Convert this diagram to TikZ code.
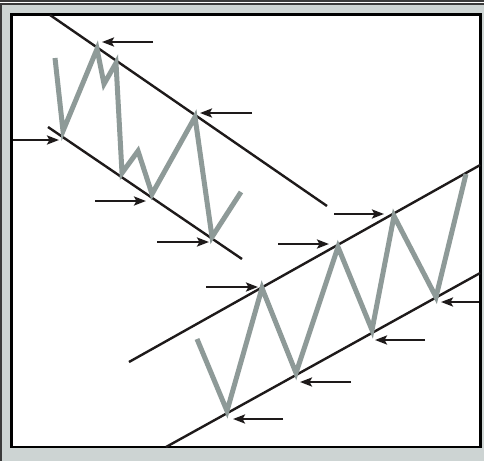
\documentclass[tikz,border=0pt]{standalone}
\usetikzlibrary{arrows.meta}
\definecolor{framegray}{HTML}{CDD4D3}
\definecolor{darkline}{HTML}{3A3A3A}
\definecolor{zig}{HTML}{8E9A98}
\definecolor{ink}{HTML}{1E1A1A}
\tikzset{
  trend/.style={draw=ink, line width=2.4pt},
  price/.style={draw=zig, line width=5pt, line join=miter, miter limit=20},
  marker/.style={draw=ink, line width=2.6pt, -{Stealth[length=12pt,width=9pt,inset=2.5pt]}}
}
\begin{document}
\begin{tikzpicture}[x=1pt,y=-1pt]
\useasboundingbox (0,0) rectangle (484,461);
% frame
\fill[framegray] (0,0) rectangle (484,461);
\fill[darkline] (0,0) rectangle (484,2);
\fill[white] (0,2) rectangle (484,3);
\fill[darkline] (0,3) rectangle (484,4.6);
\fill[darkline] (0,4.6) rectangle (1.6,461);
\draw[fill=white, draw=black, line width=2.6pt] (11.3,14.5) rectangle (480.2,447);

% descending channel
\draw[trend] (50,15) -- (327,206);
\draw[trend] (48,127) -- (242,259);
\draw[price] (55,58) -- (63,131) -- (97,49) -- (104,84) -- (116,63) -- (122,173)
  -- (138,151) -- (152,194) -- (195,117) -- (212,237) -- (241,192);

% ascending channel
\draw[trend] (129,362) -- (480.2,165);
\draw[trend] (166,447) -- (480.2,273);
\draw[price] (197,339) -- (227,411) -- (262,288) -- (296,373) -- (338,247)
  -- (372,330) -- (394,216) -- (436,297) -- (466,174);

% markers
\coordinate (a1s) at (153,42);  \coordinate (a1e) at (102,42);
\coordinate (a2s) at (252,113); \coordinate (a2e) at (200,113);
\coordinate (a3s) at (12.5,140); \coordinate (a3e) at (59,140);
\coordinate (a4s) at (95,201);  \coordinate (a4e) at (146,201);
\coordinate (a5s) at (157,242); \coordinate (a5e) at (209,242);
\coordinate (a6s) at (334,214); \coordinate (a6e) at (384,214);
\coordinate (a7s) at (278,244); \coordinate (a7e) at (329,244);
\coordinate (a8s) at (206,287); \coordinate (a8e) at (258,287);
\coordinate (a9s) at (479,302); \coordinate (a9e) at (441,302);
\coordinate (a10s) at (425,340); \coordinate (a10e) at (375,340);
\coordinate (a11s) at (351,382); \coordinate (a11e) at (300,382);
\coordinate (a12s) at (283,419); \coordinate (a12e) at (233,419);
\foreach \i in {1,...,12} \draw[marker] (a\i s) -- (a\i e);
\end{tikzpicture}
\end{document}
